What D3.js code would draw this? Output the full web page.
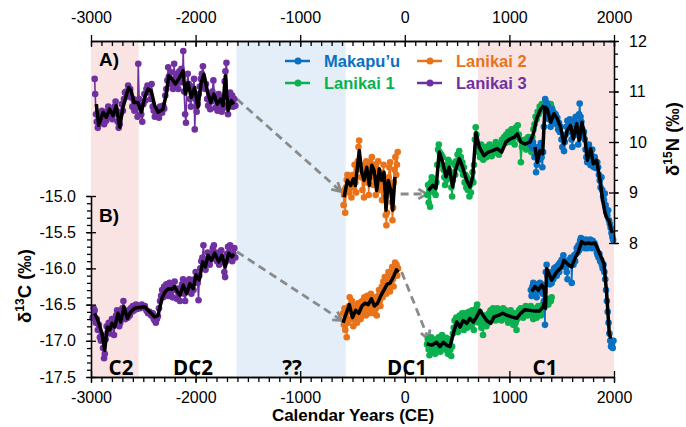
<!DOCTYPE html>
<html><head><meta charset="utf-8">
<script src="https://cdn.jsdelivr.net/npm/d3@7"></script>
<style>body{margin:0;background:#fff}svg{display:block}</style>
</head><body><svg id="c" width="686" height="427"></svg>
<script>
// ---------------- DATA ----------------
const majorYears = [-3000, -2000, -1000, 0, 1000, 2000];
const ticksN = [8, 9, 10, 11, 12];
const ticksC = [-15.0, -15.5, -16.0, -16.5, -17.0, -17.5];
const periodStart = [-3000, -1610, 700];
const periodEnd = [-2545, -565, 2000];
const periodNames = ["C2", "DC2", "??", "DC1", "C1"];
const periodNameYears = [-2713, -2025, -1078, 21, 1340];
const seriesNames = ["Makapu\u2019u", "Lanikai 2", "Lanikai 1", "Lanikai 3"];

// Lanikai 3 (purple)
const lan3N = [[-2965,11.25],[-2960,10.95],[-2952,10.55],[-2945,10.40],[-2935,10.28],[-2925,10.45],[-2915,10.55],[-2905,10.50],[-2895,10.62],[-2885,10.45],[-2875,10.35],[-2865,10.55],[-2855,10.42],[-2845,10.60],[-2835,10.70],[-2825,10.58],[-2815,10.50],[-2805,10.62],[-2795,10.45],[-2785,10.55],[-2775,10.70],[-2765,10.80],[-2755,10.62],[-2745,10.40],[-2735,10.28],[-2725,10.35],[-2715,10.58],[-2705,10.75],[-2695,10.62],[-2685,10.85],[-2675,10.98],[-2665,11.00],[-2655,10.90],[-2645,11.12],[-2635,10.95],[-2625,11.05],[-2615,10.88],[-2605,10.70],[-2595,10.85],[-2585,10.62],[-2575,10.75],[-2565,10.68],[-2555,10.50],[-2548,11.55],[-2540,10.85],[-2530,10.72],[-2520,10.55],[-2510,10.40],[-2500,10.75],[-2490,10.95],[-2480,10.82],[-2470,11.05],[-2460,11.12],[-2450,10.98],[-2440,11.02],[-2430,10.85],[-2420,11.15],[-2410,10.70],[-2400,10.62],[-2390,10.50],[-2380,10.65],[-2370,10.55],[-2360,10.60],[-2350,10.48],[-2340,10.70],[-2330,10.62],[-2320,10.58],[-2310,10.72],[-2300,10.66],[-2290,10.92],[-2280,11.05],[-2270,11.22],[-2262,11.48],[-2255,11.30],[-2245,11.15],[-2235,11.38],[-2225,11.20],[-2215,11.05],[-2205,11.55],[-2195,11.10],[-2185,11.35],[-2175,11.25],[-2165,11.05],[-2155,11.40],[-2145,11.18],[-2135,11.45],[-2125,11.30],[-2118,11.80],[-2110,11.00],[-2100,10.55],[-2092,10.38],[-2085,11.05],[-2075,11.35],[-2065,11.15],[-2055,10.85],[-2045,10.70],[-2035,11.10],[-2025,10.95],[-2015,11.25],[-2008,10.25],[-2000,10.85],[-1990,10.60],[-1980,10.75],[-1970,10.95],[-1960,11.10],[-1950,11.25],[-1940,11.35],[-1930,11.50],[-1920,11.20],[-1910,11.05],[-1900,11.15],[-1890,10.85],[-1880,10.72],[-1870,10.90],[-1860,10.65],[-1850,10.80],[-1840,11.00],[-1830,11.22],[-1820,10.90],[-1810,10.68],[-1800,10.85],[-1790,10.62],[-1780,10.95],[-1770,10.72],[-1760,10.88],[-1750,10.60],[-1740,10.75],[-1730,10.68],[-1722,11.20],[-1715,11.40],[-1705,11.57],[-1697,10.90],[-1690,10.55],[-1680,10.70],[-1670,10.98],[-1660,10.78],[-1650,10.92],[-1640,10.70],[-1630,10.85],[-1620,10.72]];
const lan3C = [[-2985,-16.68],[-2975,-16.55],[-2965,-16.58],[-2955,-16.75],[-2945,-16.70],[-2935,-16.85],[-2925,-16.78],[-2915,-16.95],[-2905,-17.00],[-2895,-16.92],[-2885,-17.10],[-2875,-17.24],[-2868,-17.18],[-2860,-16.98],[-2850,-16.80],[-2840,-16.88],[-2830,-16.75],[-2820,-16.90],[-2810,-16.82],[-2800,-16.70],[-2790,-16.78],[-2780,-16.92],[-2770,-16.72],[-2760,-16.65],[-2750,-16.58],[-2740,-16.70],[-2730,-16.80],[-2720,-16.75],[-2710,-16.62],[-2700,-16.55],[-2690,-16.45],[-2680,-16.58],[-2670,-16.70],[-2660,-16.62],[-2650,-16.68],[-2640,-16.58],[-2630,-16.65],[-2620,-16.55],[-2610,-16.60],[-2600,-16.52],[-2590,-16.58],[-2580,-16.55],[-2570,-16.50],[-2560,-16.56],[-2545,-16.52],[-2530,-16.55],[-2515,-16.50],[-2500,-16.54],[-2485,-16.52],[-2470,-16.58],[-2455,-16.62],[-2440,-16.60],[-2425,-16.65],[-2410,-16.62],[-2400,-16.70],[-2390,-16.72],[-2380,-16.75],[-2370,-16.70],[-2360,-16.66],[-2350,-16.55],[-2340,-16.45],[-2330,-16.38],[-2320,-16.30],[-2310,-16.40],[-2300,-16.25],[-2290,-16.35],[-2280,-16.22],[-2270,-16.30],[-2260,-16.38],[-2250,-16.20],[-2240,-16.32],[-2230,-16.25],[-2220,-16.40],[-2210,-16.28],[-2200,-16.18],[-2190,-16.30],[-2180,-16.42],[-2170,-16.28],[-2160,-16.35],[-2150,-16.45],[-2140,-16.30],[-2130,-16.22],[-2120,-16.15],[-2110,-16.35],[-2100,-16.45],[-2090,-16.30],[-2080,-16.20],[-2070,-16.28],[-2060,-16.15],[-2050,-16.25],[-2040,-16.35],[-2030,-16.22],[-2020,-16.30],[-2010,-16.15],[-2000,-16.05],[-1990,-16.12],[-1980,-16.20],[-1972,-16.44],[-1965,-16.10],[-1955,-16.00],[-1945,-15.90],[-1935,-15.85],[-1925,-15.68],[-1915,-15.95],[-1905,-16.02],[-1895,-15.88],[-1885,-15.78],[-1875,-15.85],[-1865,-15.95],[-1855,-15.88],[-1845,-15.80],[-1835,-15.72],[-1825,-15.68],[-1815,-15.85],[-1805,-15.78],[-1795,-15.90],[-1785,-15.82],[-1775,-15.95],[-1765,-15.80],[-1755,-15.75],[-1745,-15.85],[-1735,-15.92],[-1725,-16.05],[-1718,-16.12],[-1710,-15.90],[-1700,-15.80],[-1690,-15.70],[-1680,-15.78],[-1670,-15.68],[-1660,-15.85],[-1650,-15.90],[-1640,-15.80],[-1630,-15.72],[-1620,-15.85]];
const lan3Nfit = [[-2949,10.75],[-2926,10.33],[-2885,10.59],[-2854,10.49],[-2821,10.65],[-2790,10.52],[-2758,10.72],[-2726,10.29],[-2694,10.69],[-2663,10.92],[-2640,11.08],[-2615,11.01],[-2589,10.78],[-2551,10.78],[-2519,10.59],[-2487,10.88],[-2455,11.05],[-2424,11.01],[-2391,10.72],[-2359,10.59],[-2312,10.65],[-2280,10.95],[-2257,11.31],[-2226,11.25],[-2194,11.15],[-2152,11.28],[-2120,11.41],[-2098,10.95],[-2073,11.18],[-2041,10.88],[-2009,11.08],[-1977,10.69],[-1946,11.18],[-1920,11.34],[-1888,11.01],[-1856,10.78],[-1824,10.95],[-1793,10.75],[-1760,10.85],[-1738,10.72],[-1716,11.31],[-1690,10.62],[-1659,10.82],[-1633,10.75]];
const lan3Cfit = [[-2965,-16.62],[-2933,-16.72],[-2895,-16.90],[-2869,-17.13],[-2844,-16.81],[-2821,-16.85],[-2799,-16.76],[-2773,-16.81],[-2742,-16.62],[-2716,-16.74],[-2685,-16.53],[-2653,-16.69],[-2621,-16.60],[-2582,-16.55],[-2534,-16.54],[-2487,-16.53],[-2439,-16.60],[-2391,-16.67],[-2359,-16.65],[-2321,-16.41],[-2290,-16.32],[-2257,-16.28],[-2226,-16.29],[-2200,-16.25],[-2175,-16.32],[-2149,-16.37],[-2118,-16.23],[-2085,-16.35],[-2054,-16.21],[-2022,-16.28],[-1996,-16.09],[-1965,-16.16],[-1932,-15.91],[-1907,-15.98],[-1881,-15.82],[-1850,-15.89],[-1817,-15.79],[-1779,-15.91],[-1748,-15.82],[-1716,-15.98],[-1684,-15.79],[-1652,-15.84],[-1633,-15.80]];

// Lanikai 2 (orange)
const lan2N = [[-585,8.75],[-580,8.95],[-575,9.05],[-570,8.60],[-562,9.10],[-555,9.25],[-548,9.35],[-540,9.15],[-532,9.00],[-525,9.30],[-518,9.20],[-510,8.90],[-503,9.28],[-495,9.35],[-488,9.10],[-480,9.55],[-472,9.20],[-465,9.00],[-458,9.45],[-450,9.62],[-443,9.90],[-436,10.03],[-428,9.55],[-420,9.30],[-412,9.45],[-405,9.05],[-398,9.30],[-390,8.90],[-382,9.55],[-375,9.40],[-368,9.62],[-360,9.20],[-352,9.50],[-345,8.95],[-338,9.30],[-330,9.60],[-322,9.45],[-315,9.70],[-308,9.35],[-300,9.15],[-292,9.55],[-285,9.30],[-278,8.95],[-270,9.20],[-262,9.45],[-255,9.62],[-248,9.30],[-240,9.05],[-232,9.40],[-225,9.15],[-218,8.85],[-210,9.35],[-203,9.55],[-195,9.25],[-188,8.90],[-182,8.55],[-176,8.35],[-170,8.60],[-162,9.05],[-155,9.30],[-148,9.50],[-140,9.60],[-132,9.10],[-125,8.80],[-118,8.45],[-112,8.70],[-105,9.20],[-98,9.45],[-90,9.70],[-82,9.35],[-75,9.55],[-68,9.80]];
const lan2C = [[-590,-16.62],[-583,-16.78],[-576,-16.55],[-569,-16.85],[-562,-16.70],[-555,-16.95],[-548,-16.60],[-541,-16.75],[-534,-16.52],[-527,-16.40],[-520,-16.58],[-513,-16.70],[-506,-16.45],[-499,-16.62],[-492,-16.80],[-485,-16.55],[-478,-16.68],[-471,-16.50],[-464,-16.62],[-457,-16.75],[-450,-16.60],[-443,-16.48],[-436,-16.65],[-429,-16.52],[-422,-16.70],[-415,-16.58],[-408,-16.45],[-401,-16.62],[-394,-16.55],[-387,-16.40],[-380,-16.50],[-373,-16.65],[-366,-16.48],[-359,-16.38],[-352,-16.55],[-345,-16.45],[-338,-16.62],[-331,-16.50],[-324,-16.35],[-317,-16.48],[-310,-16.42],[-303,-16.55],[-296,-16.62],[-289,-16.48],[-282,-16.40],[-275,-16.55],[-268,-16.65],[-261,-16.50],[-254,-16.38],[-247,-16.30],[-240,-16.45],[-233,-16.52],[-226,-16.35],[-219,-16.25],[-212,-16.40],[-205,-16.18],[-198,-16.30],[-191,-16.12],[-184,-16.22],[-177,-16.35],[-170,-16.28],[-163,-16.15],[-156,-16.05],[-149,-16.20],[-142,-16.32],[-135,-16.25],[-128,-16.10],[-121,-15.98],[-114,-16.15],[-107,-16.25],[-100,-16.08],[-93,-15.92],[-86,-16.05],[-79,-15.95],[-72,-16.10],[-65,-16.00]];
const lan2Nfit = [[-581,8.91],[-549,9.24],[-517,9.14],[-492,9.27],[-473,9.14],[-435,9.83],[-412,9.40],[-390,9.24],[-364,9.50],[-339,9.14],[-316,9.54],[-294,9.44],[-268,9.04],[-244,9.47],[-221,9.24],[-199,9.40],[-180,8.65],[-158,9.24],[-135,9.04],[-116,8.65],[-94,9.31]];
const lan2Cfit = [[-590,-16.75],[-560,-16.62],[-530,-16.50],[-500,-16.68],[-470,-16.58],[-440,-16.62],[-410,-16.52],[-380,-16.48],[-350,-16.50],[-320,-16.42],[-290,-16.52],[-260,-16.48],[-230,-16.38],[-200,-16.30],[-170,-16.22],[-140,-16.20],[-110,-16.12],[-80,-16.02],[-60,-16.05]];

// Lanikai 1 (green)
const lan1N = [[215,8.95],[222,9.15],[228,8.80],[235,9.05],[242,8.72],[250,9.20],[258,9.30],[265,9.05],[272,9.20],[280,9.00],[288,9.15],[295,8.95],[302,9.20],[310,9.55],[318,9.85],[325,9.95],[332,9.80],[340,9.65],[348,9.75],[355,9.55],[362,9.70],[370,9.45],[378,9.30],[385,9.15],[392,9.40],[400,9.25],[408,9.55],[415,9.65],[422,9.45],[430,9.60],[438,9.30],[445,9.10],[452,8.92],[460,9.25],[468,9.40],[475,9.55],[482,9.35],[490,9.62],[498,9.50],[505,9.75],[512,9.60],[520,9.82],[528,9.55],[535,9.70],[542,9.45],[550,9.60],[558,9.35],[565,9.50],[572,9.20],[580,9.35],[588,9.10],[595,9.30],[602,9.05],[610,9.20],[618,8.92],[625,9.15],[632,9.00],[640,9.25],[648,9.40],[655,9.20],[662,9.55],[670,10.05],[678,10.29],[685,10.15],[692,9.95],[700,9.80],[710,9.85],[720,9.70],[730,9.95],[740,9.75],[750,9.65],[760,9.80],[770,9.90],[780,9.70],[790,9.85],[800,9.75],[810,9.95],[820,9.80],[830,9.72],[840,9.90],[850,9.78],[860,9.85],[870,10.00],[880,9.82],[890,9.95],[900,9.75],[910,9.85],[920,9.90],[930,10.05],[940,9.95],[950,10.10],[960,9.98],[970,10.15],[980,10.05],[990,10.20],[1000,10.00],[1010,10.12],[1020,10.25],[1030,10.05],[1040,10.18],[1050,9.95],[1060,10.28],[1070,10.10],[1080,10.33],[1090,10.15],[1100,10.05],[1110,9.60],[1120,9.90],[1130,10.02],[1140,9.92],[1150,10.05],[1160,9.85],[1170,9.98],[1180,10.10],[1190,9.90],[1200,10.02],[1210,9.80],[1220,10.10],[1230,10.25],[1240,10.35],[1250,10.50],[1260,10.45],[1270,10.60],[1280,10.55],[1290,10.70],[1300,10.62],[1310,10.75],[1320,10.65],[1335,10.72],[1350,10.78],[1365,10.70],[1380,10.62],[1395,10.75],[1405,10.68]];
const lan1C = [[212,-17.05],[220,-16.98],[228,-17.12],[236,-17.20],[244,-17.02],[252,-16.95],[260,-17.08],[268,-17.15],[276,-17.00],[284,-17.10],[292,-17.18],[300,-16.98],[308,-17.05],[316,-17.12],[324,-16.95],[332,-17.05],[340,-17.15],[348,-17.02],[356,-16.92],[364,-17.08],[372,-17.00],[380,-17.12],[388,-17.05],[396,-16.96],[404,-17.10],[412,-17.18],[420,-17.05],[428,-16.98],[436,-17.12],[444,-17.21],[452,-17.08],[460,-16.90],[468,-16.82],[476,-16.72],[484,-16.85],[492,-16.68],[500,-16.78],[508,-16.88],[516,-16.75],[524,-16.65],[532,-16.80],[540,-16.72],[548,-16.62],[556,-16.78],[564,-16.85],[572,-16.70],[580,-16.62],[588,-16.75],[596,-16.82],[604,-16.68],[612,-16.60],[620,-16.72],[628,-16.80],[636,-16.68],[644,-16.58],[652,-16.75],[660,-16.85],[668,-16.70],[676,-16.62],[684,-16.55],[692,-16.50],[700,-16.65],[708,-16.75],[716,-16.60],[724,-16.72],[732,-16.82],[740,-16.68],[748,-16.92],[756,-16.78],[764,-16.65],[772,-16.72],[780,-16.80],[788,-16.68],[796,-16.75],[804,-16.62],[812,-16.70],[820,-16.58],[828,-16.72],[836,-16.65],[844,-16.55],[852,-16.68],[860,-16.60],[868,-16.72],[876,-16.65],[884,-16.55],[892,-16.62],[900,-16.70],[908,-16.58],[916,-16.65],[924,-16.72],[932,-16.60],[940,-16.55],[948,-16.68],[956,-16.62],[964,-16.58],[972,-16.70],[980,-16.65],[988,-16.75],[996,-16.62],[1004,-16.68],[1012,-16.58],[1020,-16.72],[1028,-16.65],[1036,-16.78],[1044,-16.70],[1052,-16.62],[1060,-16.75],[1068,-16.85],[1076,-16.70],[1084,-16.62],[1092,-16.58],[1100,-16.65],[1108,-16.55],[1116,-16.62],[1124,-16.58],[1132,-16.68],[1140,-16.55],[1148,-16.62],[1156,-16.52],[1164,-16.58],[1172,-16.65],[1180,-16.55],[1188,-16.62],[1196,-16.58],[1204,-16.52],[1212,-16.65],[1220,-16.58],[1228,-16.70],[1236,-16.62],[1244,-16.55],[1252,-16.60],[1260,-16.68],[1268,-16.58],[1276,-16.52],[1284,-16.62],[1292,-16.55],[1300,-16.65],[1310,-16.58],[1320,-16.50],[1330,-16.55],[1340,-16.48],[1350,-16.50],[1360,-16.45],[1372,-16.50],[1384,-16.42],[1396,-16.45],[1404,-16.40]];
const lan1Nfit = [[225,9.04],[267,9.14],[298,9.08],[330,9.80],[362,9.60],[394,9.31],[425,9.50],[458,9.11],[489,9.47],[521,9.67],[553,9.50],[592,9.24],[623,9.11],[649,9.31],[681,10.19],[712,9.90],[757,9.73],[798,9.80],[840,9.83],[884,9.87],[926,9.80],[967,10.00],[1006,10.06],[1044,10.09],[1076,10.16],[1108,10.00],[1149,9.96],[1197,10.00],[1229,10.16],[1261,10.46],[1299,10.65],[1330,10.72]];
const lan1Cfit = [[209,-17.04],[257,-17.06],[305,-17.02],[336,-17.08],[368,-17.02],[400,-17.06],[432,-17.08],[464,-16.90],[496,-16.74],[528,-16.81],[559,-16.72],[592,-16.76],[623,-16.69],[655,-16.74],[687,-16.67],[719,-16.58],[750,-16.65],[783,-16.72],[821,-16.76],[853,-16.67],[894,-16.65],[936,-16.62],[980,-16.65],[1022,-16.67],[1070,-16.69],[1108,-16.62],[1149,-16.57],[1197,-16.58],[1245,-16.59],[1286,-16.59],[1324,-16.53],[1340,-16.44]];

// Makapu'u (blue)
const makN = [[1200,9.95],[1210,10.05],[1218,9.88],[1225,10.00],[1232,9.92],[1240,9.70],[1248,9.85],[1255,9.40],[1262,9.55],[1270,9.75],[1278,9.90],[1285,9.65],[1292,9.85],[1300,9.98],[1308,9.70],[1315,9.50],[1322,9.80],[1330,10.30],[1336,10.70],[1342,10.85],[1348,10.62],[1355,10.78],[1362,10.55],[1370,10.70],[1378,10.45],[1386,10.60],[1394,10.30],[1402,10.42],[1410,10.65],[1418,10.50],[1426,10.58],[1434,10.40],[1442,10.55],[1450,10.35],[1458,10.48],[1466,10.25],[1474,10.38],[1482,10.20],[1490,10.30],[1498,10.05],[1506,9.90],[1514,10.10],[1522,9.82],[1530,10.00],[1538,10.15],[1546,10.30],[1554,10.42],[1562,10.20],[1570,10.35],[1578,10.45],[1586,10.25],[1594,10.05],[1602,9.90],[1610,10.12],[1618,10.28],[1626,10.40],[1634,10.50],[1642,10.30],[1650,10.15],[1658,9.95],[1666,10.55],[1672,10.76],[1680,10.50],[1688,10.40],[1696,10.25],[1704,10.10],[1712,10.20],[1720,10.05],[1728,9.85],[1736,9.70],[1744,9.60],[1752,9.80],[1760,9.95],[1768,9.70],[1776,9.54],[1784,9.75],[1792,9.85],[1800,9.62],[1808,9.50],[1816,9.70],[1824,9.58],[1832,9.48],[1840,9.60],[1848,9.50],[1856,9.35],[1864,9.24],[1872,9.10],[1880,9.30],[1888,9.05],[1896,8.92],[1904,8.85],[1912,8.98],[1920,8.75],[1928,8.62],[1936,8.55],[1944,8.65],[1952,8.45],[1960,8.38],[1968,8.30],[1976,8.20],[1984,8.12],[1992,8.06]];
const makC = [[1205,-16.30],[1212,-16.38],[1220,-16.25],[1228,-16.20],[1236,-16.35],[1244,-16.28],[1252,-16.22],[1260,-16.40],[1268,-16.30],[1276,-16.25],[1284,-16.32],[1292,-16.20],[1300,-16.28],[1310,-16.22],[1320,-16.35],[1330,-16.45],[1340,-16.78],[1348,-16.05],[1356,-15.95],[1364,-16.10],[1372,-16.05],[1380,-16.15],[1388,-16.22],[1396,-16.12],[1404,-16.20],[1412,-16.05],[1420,-16.15],[1428,-16.00],[1436,-16.08],[1444,-15.98],[1452,-16.10],[1460,-16.02],[1468,-15.95],[1476,-16.05],[1484,-15.92],[1492,-15.98],[1500,-15.88],[1508,-15.95],[1516,-15.82],[1524,-15.90],[1532,-15.98],[1540,-15.92],[1548,-16.05],[1556,-16.15],[1564,-15.95],[1572,-15.88],[1580,-15.95],[1588,-15.85],[1596,-16.20],[1604,-15.88],[1612,-15.95],[1620,-15.82],[1628,-15.90],[1636,-15.80],[1644,-15.72],[1652,-15.78],[1660,-15.68],[1668,-15.75],[1676,-15.62],[1684,-15.58],[1692,-15.65],[1700,-15.60],[1708,-15.70],[1716,-15.62],[1724,-15.72],[1732,-15.60],[1740,-15.68],[1748,-15.72],[1756,-15.62],[1764,-15.70],[1772,-15.60],[1780,-15.68],[1788,-15.72],[1796,-15.62],[1804,-15.70],[1812,-15.65],[1820,-15.68],[1828,-15.72],[1836,-15.78],[1844,-15.82],[1852,-15.85],[1860,-15.80],[1868,-15.90],[1876,-15.88],[1884,-15.95],[1892,-16.00],[1900,-15.95],[1908,-16.05],[1916,-16.15],[1924,-16.30],[1932,-16.45],[1940,-16.60],[1948,-16.75],[1956,-16.90],[1964,-17.00],[1972,-17.08],[1980,-17.05],[1988,-17.10],[1995,-17.00]];
const makNfit = [[1245,9.90],[1267,9.60],[1293,9.83],[1318,9.77],[1340,10.69],[1362,10.65],[1395,10.39],[1426,10.56],[1458,10.46],[1490,10.29],[1522,9.96],[1553,10.23],[1585,10.33],[1611,10.06],[1643,10.36],[1668,10.03],[1694,10.39],[1719,10.13],[1745,9.64],[1777,9.87],[1802,9.57],[1834,9.64],[1866,9.24],[1891,8.85],[1915,8.59],[1932,8.49],[1952,8.45],[1968,8.30],[1985,8.20]];
const makCfit = [[1213,-16.32],[1245,-16.25],[1277,-16.30],[1309,-16.23],[1335,-16.30],[1345,-16.55],[1356,-16.00],[1404,-16.16],[1452,-16.05],[1500,-15.98],[1522,-15.89],[1563,-15.95],[1595,-15.98],[1627,-15.86],[1659,-15.77],[1691,-15.63],[1723,-15.66],[1754,-15.65],[1786,-15.66],[1818,-15.65],[1850,-15.75],[1882,-15.86],[1904,-15.93],[1930,-16.35],[1955,-16.90],[1968,-16.97]];

// dashed connection arrows: [year0, value0, year1, value1]
const arrowsN = [[-1605, 10.85, -610, 9.02], [-40, 8.97, 212, 8.97]];
const arrowsC = [[-1605, -15.77, -600, -16.72], [-30, -16.05, 228, -16.98]];

// ---------------- CHART ----------------
const svg = d3.select('#c');
const FONT = '"Liberation Sans", Arial, sans-serif';
const COL = {mak: '#0a70c2', lan2: '#e8731a', lan1: '#0bb04f', lan3: '#7030a0'};
const x = d3.scaleLinear().domain([-3000, 2000]).range([91, 614]);
const yN = d3.scaleLinear().domain([8, 12]).range([243, 41]);
const yC = d3.scaleLinear().domain([-17.5, -15]).range([377, 196]);
const TOP = 41, BOT = 377;

// background periods
const shadeCols = ['#f9e3e3', '#e3eef8', '#f9e3e3'];
svg.append('g').selectAll('rect').data(periodStart).join('rect')
  .attr('x', (d) => x(d)).attr('y', TOP)
  .attr('width', (d, i) => x(periodEnd[i]) - x(d)).attr('height', BOT - TOP)
  .attr('fill', (d, i) => shadeCols[i]);

// arrows
const defs = svg.append('defs');
defs.append('marker').attr('id', 'ah').attr('viewBox', '0 0 12 12')
  .attr('refX', 10).attr('refY', 6).attr('markerWidth', 13).attr('markerHeight', 13)
  .attr('markerUnits', 'userSpaceOnUse').attr('orient', 'auto')
  .append('path').attr('d', 'M2,1.5 L10,6 L2,10.5').attr('fill', 'none')
  .attr('stroke', '#8a8a8a').attr('stroke-width', 2.6);
const ag = svg.append('g');
function drawArrows(list, ys) {
  ag.selectAll(null).data(list).join('line')
    .attr('x1', (d) => x(d[0])).attr('y1', (d) => ys(d[1]))
    .attr('x2', (d) => x(d[2])).attr('y2', (d) => ys(d[3]))
    .attr('stroke', '#8a8a8a').attr('stroke-width', 2.8)
    .attr('stroke-dasharray', '8,5').attr('marker-end', 'url(#ah)');
}
drawArrows(arrowsN, yN);
drawArrows(arrowsC, yC);

// series
const sg = svg.append('g');
function drawSeries(data, ys, color) {
  const line = d3.line().x((d) => x(d[0])).y((d) => ys(d[1]));
  sg.append('path').datum(data).attr('d', line).attr('fill', 'none')
    .attr('stroke', color).attr('stroke-width', 1.6);
  sg.append('g').selectAll('circle').data(data).join('circle')
    .attr('cx', (d) => x(d[0])).attr('cy', (d) => ys(d[1])).attr('r', 3.3)
    .attr('fill', color);
}
drawSeries(lan1N, yN, COL.lan1);
drawSeries(lan1C, yC, COL.lan1);
drawSeries(makN, yN, COL.mak);
drawSeries(makC, yC, COL.mak);
drawSeries(lan2N, yN, COL.lan2);
drawSeries(lan2C, yC, COL.lan2);
drawSeries(lan3N, yN, COL.lan3);
drawSeries(lan3C, yC, COL.lan3);

function drawFit(data, ys) {
  const line = d3.line().x((d) => x(d[0])).y((d) => ys(d[1]));
  sg.append('path').datum(data).attr('d', line).attr('fill', 'none')
    .attr('stroke', '#000').attr('stroke-width', 3.5).attr('stroke-linejoin', 'round');
}
[[lan3Nfit, yN], [lan3Cfit, yC], [lan2Nfit, yN], [lan2Cfit, yC],
 [lan1Nfit, yN], [lan1Cfit, yC], [makNfit, yN], [makCfit, yC]].forEach((p) => drawFit(p[0], p[1]));

// axes
function styleAxis(g) {
  g.attr('font-family', FONT).attr('font-size', 16);
  g.selectAll('path, line').attr('stroke', '#000').attr('stroke-width', 1.3);
  g.selectAll('text').attr('fill', '#000');
}
const fmtInt = (d) => String(d);
const fmt1 = (d) => d.toFixed(1);
const minorYears = d3.range(-3000, 2001, 100);

// top
let g = svg.append('g').attr('transform', `translate(0,${TOP})`)
  .call(d3.axisTop(x).tickValues(minorYears).tickSize(-5).tickSizeOuter(0).tickFormat(''));
styleAxis(g);
g = svg.append('g').attr('transform', `translate(0,${TOP})`)
  .call(d3.axisTop(x).tickValues(majorYears).tickSize(6).tickSizeOuter(0).tickPadding(12).tickFormat(fmtInt));
styleAxis(g); g.selectAll('.tick line').attr('y1', 6);
// bottom
g = svg.append('g').attr('transform', `translate(0,${BOT})`)
  .call(d3.axisBottom(x).tickValues(minorYears).tickSize(5).tickSizeOuter(0).tickFormat(''));
styleAxis(g);
g = svg.append('g').attr('transform', `translate(0,${BOT})`)
  .call(d3.axisBottom(x).tickValues(majorYears).tickSize(6).tickSizeOuter(0).tickPadding(9).tickFormat(fmtInt));
styleAxis(g); g.selectAll('.tick line').attr('y1', -6);
// left (d13C)
g = svg.append('g').attr('transform', 'translate(91,0)')
  .call(d3.axisLeft(yC).tickValues(d3.range(0, 26).map((i) => -17.5 + i * 0.1)).tickSize(4).tickSizeOuter(0).tickFormat(''));
styleAxis(g);
g = svg.append('g').attr('transform', 'translate(91,0)')
  .call(d3.axisLeft(yC).tickValues(ticksC).tickSize(5).tickSizeOuter(0).tickPadding(10).tickFormat(fmt1));
styleAxis(g); g.selectAll('.tick line').attr('x1', 5);
// right (d15N)
g = svg.append('g').attr('transform', 'translate(614,0)')
  .call(d3.axisRight(yN).tickValues(d3.range(0, 17).map((i) => 8 + i * 0.25)).tickSize(4).tickSizeOuter(0).tickFormat(''));
styleAxis(g);
g = svg.append('g').attr('transform', 'translate(614,0)')
  .call(d3.axisRight(yN).tickValues(ticksN).tickSize(5).tickSizeOuter(0).tickPadding(10).tickFormat(fmtInt));
styleAxis(g); g.selectAll('.tick line').attr('x1', -5);

// axis titles
svg.append('text').attr('x', 353).attr('y', 421).attr('text-anchor', 'middle')
  .attr('font-family', FONT).attr('font-weight', 'bold').attr('font-size', 17)
  .text('Calendar Years (CE)');
function yTitle(cx, cy, iso, el) {
  const t = svg.append('text').attr('transform', `translate(${cx},${cy}) rotate(-90)`)
    .attr('text-anchor', 'middle').attr('font-family', FONT).attr('font-weight', 'bold').attr('font-size', 18.5);
  t.append('tspan').text('\u03b4');
  t.append('tspan').attr('font-size', 12).attr('dy', -7).text(iso);
  t.append('tspan').attr('dy', 7).text(el + ' (\u2030)');
}
yTitle(31, 286, '13', 'C');
yTitle(679, 139, '15', 'N');

// panel labels
svg.append('text').attr('x', 99).attr('y', 66).attr('font-family', FONT)
  .attr('font-weight', 'bold').attr('font-size', 19).text('A)');
svg.append('text').attr('x', 99).attr('y', 222).attr('font-family', FONT)
  .attr('font-weight', 'bold').attr('font-size', 19).text('B)');

// period names
svg.append('g').selectAll('text').data(periodNames).join('text')
  .attr('x', (d, i) => x(periodNameYears[i])).attr('y', 375)
  .attr('text-anchor', 'middle').attr('font-family', '"Open Sans", sans-serif')
  .attr('font-weight', 700).attr('font-size', 20.5).attr('fill', '#000').text((d) => d);

// legend
const legCols = [COL.mak, COL.lan2, COL.lan1, COL.lan3];
const legX = [285, 417, 285, 417];
const legY = [61, 61, 83, 83];
const lg = svg.append('g');
seriesNames.forEach((name, i) => {
  lg.append('line').attr('x1', legX[i]).attr('x2', legX[i] + 25).attr('y1', legY[i]).attr('y2', legY[i])
    .attr('stroke', legCols[i]).attr('stroke-width', 2.5);
  lg.append('circle').attr('cx', legX[i] + 13).attr('cy', legY[i]).attr('r', 3.5).attr('fill', legCols[i]);
  lg.append('text').attr('x', legX[i] + 39).attr('y', legY[i] + 6).attr('font-family', FONT)
    .attr('font-weight', 'bold').attr('font-size', 16.5).attr('fill', legCols[i]).text(name);
});
</script></body></html>
